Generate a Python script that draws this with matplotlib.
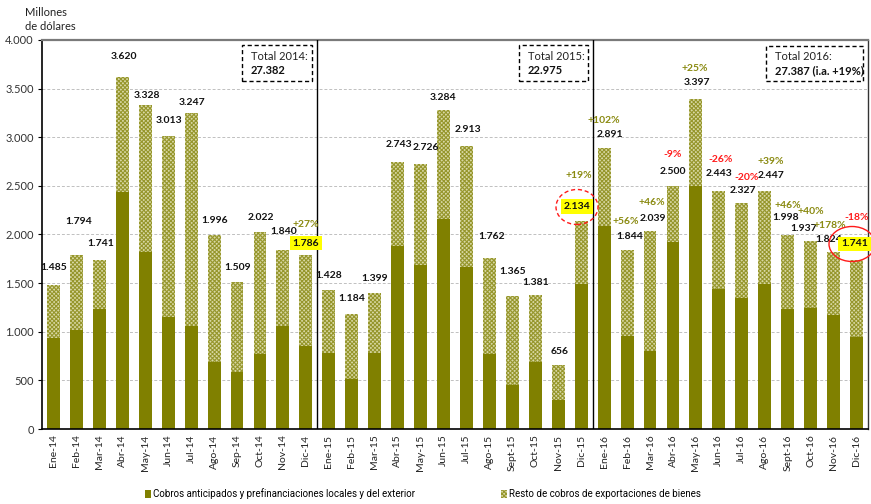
import matplotlib
matplotlib.use("Agg")
import matplotlib.pyplot as plt
from matplotlib.patches import Patch, Ellipse, Rectangle
import numpy as np

# ---------------- data ----------------
months = ["Ene-14", "Feb-14", "Mar-14", "Abr-14", "May-14", "Jun-14", "Jul-14", "Ago-14", "Sep-14", "Oct-14", "Nov-14", "Dic-14",
          "Ene-15", "Feb-15", "Mar-15", "Abr-15", "May-15", "Jun-15", "Jul-15", "Ago-15", "Sept-15", "Oct-15", "Nov-15", "Dic-15",
          "Ene-16", "Feb-16", "Mar-16", "Abr-16", "May-16", "Jun-16", "Jul-16", "Ago-16", "Sept-16", "Oct-16", "Nov-16", "Dic-16"]

total = [1485, 1794, 1741, 3620, 3328, 3013, 3247, 1996, 1509, 2022, 1840, 1786,
         1428, 1184, 1399, 2743, 2726, 3284, 2913, 1762, 1365, 1381, 656, 2134,
         2891, 1844, 2039, 2500, 3397, 2443, 2327, 2447, 1998, 1937, 1824, 1741]

cobros_anticipados = [936, 1019, 1235, 2442, 1825, 1152, 1060, 689, 587, 772, 1060, 851,
                      782, 514, 782, 1883, 1684, 2158, 1667, 772, 453, 689, 298, 1492,
                      2089, 960, 803, 1921, 2500, 1441, 1351, 1492, 1238, 1248, 1173, 950]

resto = [t - c for t, c in zip(total, cobros_anticipados)]

value_labels = ["1.485", "1.794", "1.741", "3.620", "3.328", "3.013", "3.247", "1.996", "1.509", "2.022", "1.840", "1.786",
                "1.428", "1.184", "1.399", "2.743", "2.726", "3.284", "2.913", "1.762", "1.365", "1.381", "656", "2.134",
                "2.891", "1.844", "2.039", "2.500", "3.397", "2.443", "2.327", "2.447", "1.998", "1.937", "1.824", "1.741"]

pct_labels = [None] * 11 + ["+27%"] + [None] * 11 + ["+19%"] + \
             ["+102%", "+56%", "+46%", "-9%", "+25%", "-26%", "-20%", "+39%", "+46%", "+40%", "+178%", "-18%"]

highlight = [11, 23, 35]
totals_text = [("Total 2014:", "27.382"), ("Total 2015:", "22.975"), ("Total 2016:", "27.387 (i.a. +19%)")]
legend_labels = ["Cobros anticipados y prefinanciaciones locales y del exterior",
                 "Resto de cobros de exportaciones de bienes"]
yticks = [0, 500, 1000, 1500, 2000, 2500, 3000, 3500, 4000]
ytick_labels = ["0", "500", "1.000", "1.500", "2.000", "2.500", "3.000", "3.500", "4.000"]

# ---------------- styles / positions ----------------
W, H = 871, 504
DARK = "#808000"
LIGHT_FACE = "#d8d8a4"
LIGHT_HATCH = "#96962c"
POS_C = "#8a8a10"
NEG_C = "#ff1a1a"

# label offsets (pixels) relative to bar top centre
val_off = [(0, 17), (2, 33), (1, 16), (2, 20), (2, 10), (1, 15), (1, 11), (1, 14), (1, 15), (1, 15), (1, 19), (0, 12),
           (0, 15), (0, 15), (0, 14), (1, 18), (5, 16), (-1, 12), (1, 16), (2, 21), (0, 25), (0, 12), (1, 14), (-4, 15),
           (6, 13), (3, 13), (3, 12), (0, 14), (1, 16), (0, 18), (1, 12), (6, 16), (-2, 17), (-7, 12), (-5, 12), (-2, 16)]
pct_off = {11: (0, 31), 23: (-2, 46), 24: (0, 27), 25: (-1, 28), 26: (2, 28), 27: (0, 31), 28: (-1, 30),
           29: (2, 32), 30: (5, 25), 31: (6, 30), 32: (0, 29), 33: (0, 29), 34: (-4, 26), 35: (0, 42)}

plt.rcParams["font.family"] = ["Lato", "DejaVu Sans"]
plt.rcParams["hatch.linewidth"] = 0.8

fig = plt.figure(figsize=(W / 100, H / 100), dpi=100)
ax = fig.add_axes([42 / W, 1 - 429 / H, 826 / W, 389 / H])

x = np.arange(len(months))
ax.bar(x, cobros_anticipados, width=0.56, color=DARK, linewidth=0, zorder=2)
ax.bar(x, resto, bottom=cobros_anticipados, width=0.56, facecolor=LIGHT_FACE, edgecolor=LIGHT_HATCH,
       hatch="xxxxxxxx", linewidth=0, zorder=2)

ax.set_xlim(-0.5, len(months) - 0.5)
ax.set_ylim(0, 4000)
ax.set_yticks(yticks)
ax.set_yticklabels(ytick_labels, fontsize=8, color="#333333")
ax.set_xticks(x)
ax.set_xticklabels(months, rotation=90, fontsize=7.5, color="#222222")
ax.tick_params(axis="x", length=0, pad=4)
ax.tick_params(axis="y", length=3, width=0.8, direction="out", pad=3)
ax.grid(axis="y", color="#c0c0c0", linestyle=(0, (3, 2)), linewidth=0.7, zorder=0)

for s in ["left", "bottom"]:
    ax.spines[s].set_color("black")
    ax.spines[s].set_linewidth(1.2)
ax.spines["top"].set_color("#7a7a7a")
ax.spines["top"].set_linewidth(1.6)
ax.spines["right"].set_color("#333333")
ax.spines["right"].set_linewidth(1.0)

for sep in [11.5, 23.5]:
    ax.axvline(sep, color="black", linewidth=1.0, zorder=3)

PT = 0.72  # points per pixel at dpi 100

# value labels
for i, (v, lab) in enumerate(zip(total, value_labels)):
    dx, dy = val_off[i]
    kw = {}
    if i in highlight:
        kw["bbox"] = dict(boxstyle="square,pad=0.25", facecolor="#ffff00", edgecolor="none")
    ax.annotate(lab, xy=(i, v), xytext=(dx * PT, dy * PT), textcoords="offset points",
                ha="center", va="center", fontsize=7.5, fontweight="bold", color="#111111",
                zorder=6 if i in highlight else 5, annotation_clip=False, **kw)

# percent labels
for i, p in enumerate(pct_labels):
    if p is None:
        continue
    dx, dy = pct_off[i]
    col = NEG_C if p.startswith("-") else POS_C
    ax.annotate(p, xy=(i, total[i]), xytext=(dx * PT, dy * PT), textcoords="offset points",
                ha="center", va="center", fontsize=7.5, fontweight="bold", color=col,
                zorder=5, annotation_clip=False)


def fx(px):
    return px / W


def fy(py):
    return 1 - py / H


# circles around highlighted december values
fig.add_artist(Ellipse((fx(577), fy(207)), 42 / W, 35 / H, fill=False, edgecolor=NEG_C,
                       linestyle=(0, (3, 2)), linewidth=1.0, transform=fig.transFigure, zorder=7))
fig.add_artist(Ellipse((fx(852), fy(244)), 46 / W, 35 / H, fill=False, edgecolor=NEG_C,
                       linestyle="-", linewidth=1.0, transform=fig.transFigure, zorder=7))

# total boxes
boxes = [(242, 45, 70, 36, 251), (519, 45, 69, 36, 528), (766, 46, 97, 35, 775)]
for (bx, by, bw, bh, tx), (t1, t2) in zip(boxes, totals_text):
    fig.add_artist(Rectangle((fx(bx), fy(by + bh)), bw / W, bh / H, facecolor="white", edgecolor="black",
                             linestyle=(0, (3, 2)), linewidth=1.0, transform=fig.transFigure, zorder=8))
    fig.text(fx(tx), fy(by + 11), t1, fontsize=8, color="#222222", ha="left", va="center", zorder=9)
    fig.text(fx(tx), fy(by + 25), t2, fontsize=8, fontweight="bold", color="#111111", ha="left", va="center", zorder=9)

# y-axis unit label
fig.text(fx(25), fy(12), "Millones", fontsize=8, color="#222222", ha="left", va="center")
fig.text(fx(25), fy(27), "de dólares", fontsize=8, color="#222222", ha="left", va="center")

# legend
h1 = Patch(facecolor=DARK, edgecolor=DARK, linewidth=0)
h2 = Patch(facecolor=LIGHT_FACE, edgecolor=LIGHT_HATCH, hatch="xxxxxxxx", linewidth=0)
legfont = {"family": ["Liberation Sans Narrow", "Roboto", "DejaVu Sans"], "size": 7}
fig.legend([h1], [legend_labels[0]], loc="center left", bbox_to_anchor=(fx(141), fy(494)),
           frameon=False, handlelength=0.6, handleheight=0.9, handletextpad=0.25, prop=legfont, borderaxespad=0)
fig.legend([h2], [legend_labels[1]], loc="center left", bbox_to_anchor=(fx(497), fy(494)),
           frameon=False, handlelength=0.6, handleheight=0.9, handletextpad=0.25, prop=legfont, borderaxespad=0)

fig.savefig("out.png", dpi=100)
